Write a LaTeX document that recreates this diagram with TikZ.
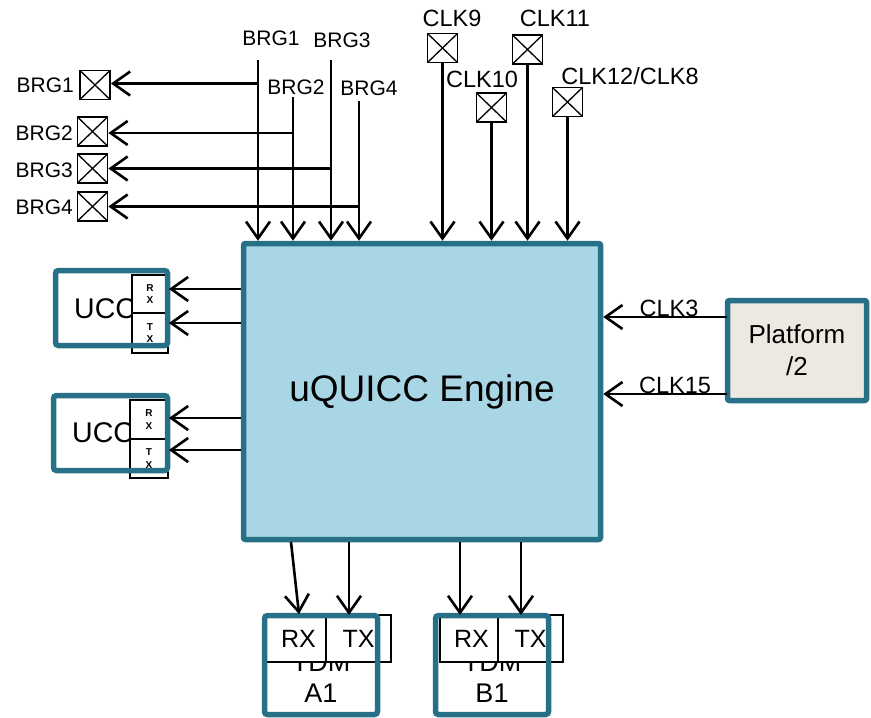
\documentclass[tikz,border=0pt]{standalone}
\usepackage{fontspec}
\setmainfont{Liberation Sans}
\usetikzlibrary{arrows.meta}
\definecolor{edgeteal}{RGB}{40,112,136}
\definecolor{engfill}{RGB}{168,214,229}
\definecolor{platfill}{RGB}{236,234,224}
\begin{document}
\begin{tikzpicture}[x=1pt,y=-1pt,
  arr/.style={line width=2.6pt,-{Straight Barb[length=17pt,width=24pt]}},
  lblb/.style={font=\fontsize{21}{25}\selectfont,inner sep=0pt},
  lblc/.style={font=\fontsize{23.5}{28}\selectfont,inner sep=0pt},
  xbox/.style={draw,line width=1.8pt,minimum width=30pt,minimum height=29pt,inner sep=0pt,
    path picture={\draw[line width=1.3pt] (path picture bounding box.north west) -- (path picture bounding box.south east)
      (path picture bounding box.north east) -- (path picture bounding box.south west);}},
  engbox/.style={draw=edgeteal,line width=5.5pt,fill=engfill,rounded corners=2pt,inner sep=0pt},
  tealbox/.style={draw=edgeteal,line width=5.5pt,rounded corners=3pt,inner sep=0pt},
  rxtx/.style={draw,line width=1.8pt,fill=white,inner sep=0pt},
  tinytxt/.style={font=\fontsize{10}{12.5}\selectfont\bfseries,align=center},
  midtxt/.style={font=\fontsize{25}{28}\selectfont}
]
\useasboundingbox (0,0) rectangle (871,718);

% main engine
\node[engbox,minimum width=357pt,minimum height=296pt,font=\fontsize{37}{44}\selectfont] (eng) at (422,391.5) {uQUICC Engine};

% BRG left boxes
\node[xbox] (xb1) at (95,85) {};
\node[xbox] (xb2) at (92.5,131.5) {};
\node[xbox] (xb3) at (92.5,168.5) {};
\node[xbox] (xb4) at (92.5,206.5) {};
\node[lblb,anchor=east] (lb1) at (74,85) {BRG1};
\node[lblb,anchor=east] (lb2) at (73,133) {BRG2};
\node[lblb,anchor=east] (lb3) at (73,170) {BRG3};
\node[lblb,anchor=east] (lb4) at (73,207) {BRG4};

% BRG top
\coordinate (bt1) at (258,60);
\coordinate (bt2) at (293,97);
\coordinate (bt3) at (331,60);
\coordinate (bt4) at (359,101);
\node[lblb] (tb1) at (271,38) {BRG1};
\node[lblb] (tb3) at (342,40) {BRG3};
\node[lblb] (tb2) at (296,87) {BRG2};
\node[lblb] (tb4) at (369,88) {BRG4};
\draw[arr] (bt1) -- (bt1 |- eng.north);
\draw[arr] (bt2) -- (bt2 |- eng.north);
\draw[arr] (bt3) -- (bt3 |- eng.north);
\draw[arr] (bt4) -- (bt4 |- eng.north);
\draw[arr] ([yshift=1.5pt]bt1 |- xb1.east) -- ([yshift=1.5pt]xb1.east);
\draw[arr] ([yshift=-1.5pt]bt2 |- xb2.east) -- ([yshift=-1.5pt]xb2.east);
\draw[arr] (bt3 |- xb3.east) -- (xb3.east);
\draw[arr] (bt4 |- xb4.east) -- (xb4.east);

% CLK top
\node[xbox] (c9) at (442.5,48) {};
\node[xbox] (c11) at (527.5,49.5) {};
\node[xbox] (c10) at (491.5,107.5) {};
\node[xbox] (c12) at (567.5,102) {};
\node[lblc] (lc9) at (452,18) {CLK9};
\node[lblc] (lc11) at (555,18) {CLK11};
\node[lblc] (lc10) at (482,79) {CLK10};
\node[lblc] (lc12) at (630,76) {CLK12/CLK8};
\draw[arr] (c9.south) -- (c9.south |- eng.north);
\draw[arr] (c10.south) -- (c10.south |- eng.north);
\draw[arr] (c11.south) -- (c11.south |- eng.north);
\draw[arr] (c12.south) -- (c12.south |- eng.north);

% UCC1
\node[font=\fontsize{28.5}{34}\selectfont] (u1t) at (113,309) {UCC1};
\node[rxtx,tinytxt,minimum width=36pt,minimum height=38pt] (u1rx) at (150,294) {R\\X};
\node[rxtx,tinytxt,minimum width=36pt,minimum height=40pt] (u1tx) at (150,333) {T\\X};
\node[tealbox,minimum width=112pt,minimum height=75pt] (u1) at (111.5,308) {};
\draw[arr] ([yshift=5pt]u1rx.east -| eng.west) -- ([yshift=5pt]u1rx.east);
\draw[arr] ([yshift=10pt]u1tx.east -| eng.west) -- ([yshift=10pt]u1tx.east);

% UCC3
\node[font=\fontsize{28.5}{34}\selectfont] (u3t) at (111,433) {UCC3};
\node[rxtx,tinytxt,minimum width=38pt,minimum height=39pt] (u3rx) at (149,419.5) {R\\X};
\node[rxtx,tinytxt,minimum width=38pt,minimum height=39pt] (u3tx) at (149,458.5) {T\\X};
\node[tealbox,minimum width=114pt,minimum height=75pt] (u3) at (110.5,433) {};
\draw[arr] ([yshift=1.5pt]u3rx.east -| eng.west) -- ([yshift=1.5pt]u3rx.east);
\draw[arr] ([yshift=8.5pt]u3tx.east -| eng.west) -- ([yshift=8.5pt]u3tx.east);

% Platform
\node[tealbox,fill=platfill,rounded corners=2pt,minimum width=139pt,minimum height=100pt,align=center,font=\fontsize{26}{32}\selectfont] (plat) at (797,350.5) {Platform\\/2};
\coordinate (c3) at (727,317);
\coordinate (c15) at (727,394);
\draw[arr] (c3) -- (c3 -| eng.east);
\draw[arr] (c15) -- (c15 -| eng.east);
\node[lblc,anchor=base] (lc3) at (669,316) {CLK3};
\node[lblc,anchor=base] (lc15) at (675,393) {CLK15};

% TDM A1
\node[font=\fontsize{27}{31}\selectfont,align=center] (ta1) at (321,677.5) {TDM\\A1};
\node[rxtx,midtxt,minimum width=67pt,minimum height=47pt] (a1rx) at (298.5,638.5) {RX};
\node[rxtx,midtxt,minimum width=65pt,minimum height=47pt] (a1tx) at (358.5,638.5) {TX};
\node[tealbox,minimum width=113pt,minimum height=99pt] (a1) at (321,665) {};

% TDM B1
\node[font=\fontsize{27}{31}\selectfont,align=center] (tb1x) at (492,677.5) {TDM\\B1};
\node[rxtx,midtxt,minimum width=63pt,minimum height=47pt] (b1rx) at (471.5,638.5) {RX};
\node[rxtx,midtxt,minimum width=65pt,minimum height=47pt] (b1tx) at (530.5,638.5) {TX};
\node[tealbox,minimum width=113pt,minimum height=99pt] (b1) at (492,665) {};

% bottom arrows
\coordinate (a1s) at (291,542);
\coordinate (a1e) at (349,615);
\coordinate (b1r) at (460,615);
\coordinate (b1x) at (521,615);
\draw[arr] (a1s) -- ([xshift=0.5pt]a1rx.north);
\draw[arr] (a1e |- eng.south) -- (a1e);
\draw[arr] (b1r |- eng.south) -- (b1r);
\draw[arr] (b1x |- eng.south) -- (b1x);
\end{tikzpicture}
\end{document}
